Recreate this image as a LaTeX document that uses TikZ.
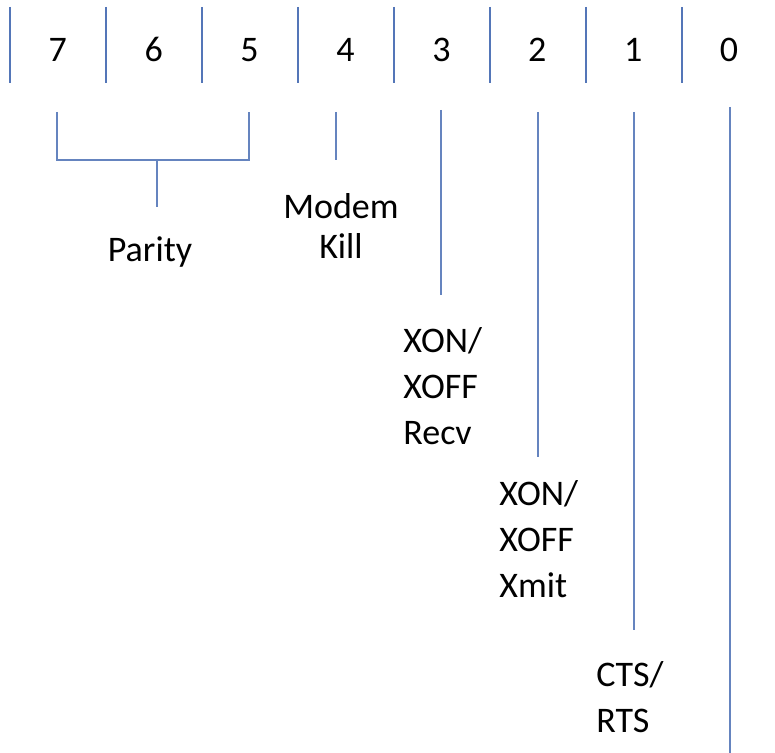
\documentclass[tikz,border=0pt]{standalone}
\usepackage{fontspec}
\setmainfont{Carlito}
\definecolor{linec}{RGB}{84,118,184}
\begin{document}
\begin{tikzpicture}[x=0.5pt,y=-0.5pt,
  sepline/.style={draw=linec, line width=0.75pt},
  rule/.style={draw=linec!90, line width=0.7pt},
  txt/.style={font=\fontsize{18}{23}\selectfont, inner sep=0pt},
  digit/.style={txt, anchor=base},
  lbl/.style={txt, align=left, anchor=base west}]
\useasboundingbox (0,0) rectangle (775,753);
% separators of the register
\foreach \x in {10,106,202,298,394,490,586,682}
  \draw[sepline] (\x,7) -- (\x,83);
% bit numbers
\foreach \i/\d in {0/7,1/6,2/5,3/4,4/3,5/2,6/1,7/0}
  \node[digit] (b\d) at ({57.8+95.9*\i},62) {\d};
% labels (anchor base = baseline of the last line)
\node[txt, anchor=base] (parity) at (150,262) {Parity};
\node[txt, align=center, anchor=base] (modem) at (341,259) {Modem\\[-3pt]Kill};
\node[lbl] (xrecv) at (403,444) {XON/\\XOFF\\Recv};
\node[lbl] (xmit) at (499,597) {XON/\\XOFF\\Xmit};
\node[lbl] (cts) at (596,732) {CTS/\\RTS};
% leader coordinates
\coordinate (t7) at (57,112);
\coordinate (t5) at (249,112);
\coordinate (pm) at (157,160);
\coordinate (pe) at (157,207);
\coordinate (t4) at (336,112);
\coordinate (e4) at (336,160);
\coordinate (t3) at (441,110);
\coordinate (e3) at (441,295);
\coordinate (t2) at (538,112);
\coordinate (e2) at (538,457);
\coordinate (t1) at (634,112);
\coordinate (e1) at (634,630);
\coordinate (t0) at (730,107);
\coordinate (e0) at (730,753);
% leaders
\draw[rule] (t7) |- (pm) -| (t5);
\draw[rule] (pm) -- (pe);
\draw[rule] (t4) -- (e4);
\draw[rule] (t3) -- (e3);
\draw[rule] (t2) -- (e2);
\draw[rule] (t1) -- (e1);
\draw[rule] (t0) -- (e0);
\end{tikzpicture}
\end{document}
